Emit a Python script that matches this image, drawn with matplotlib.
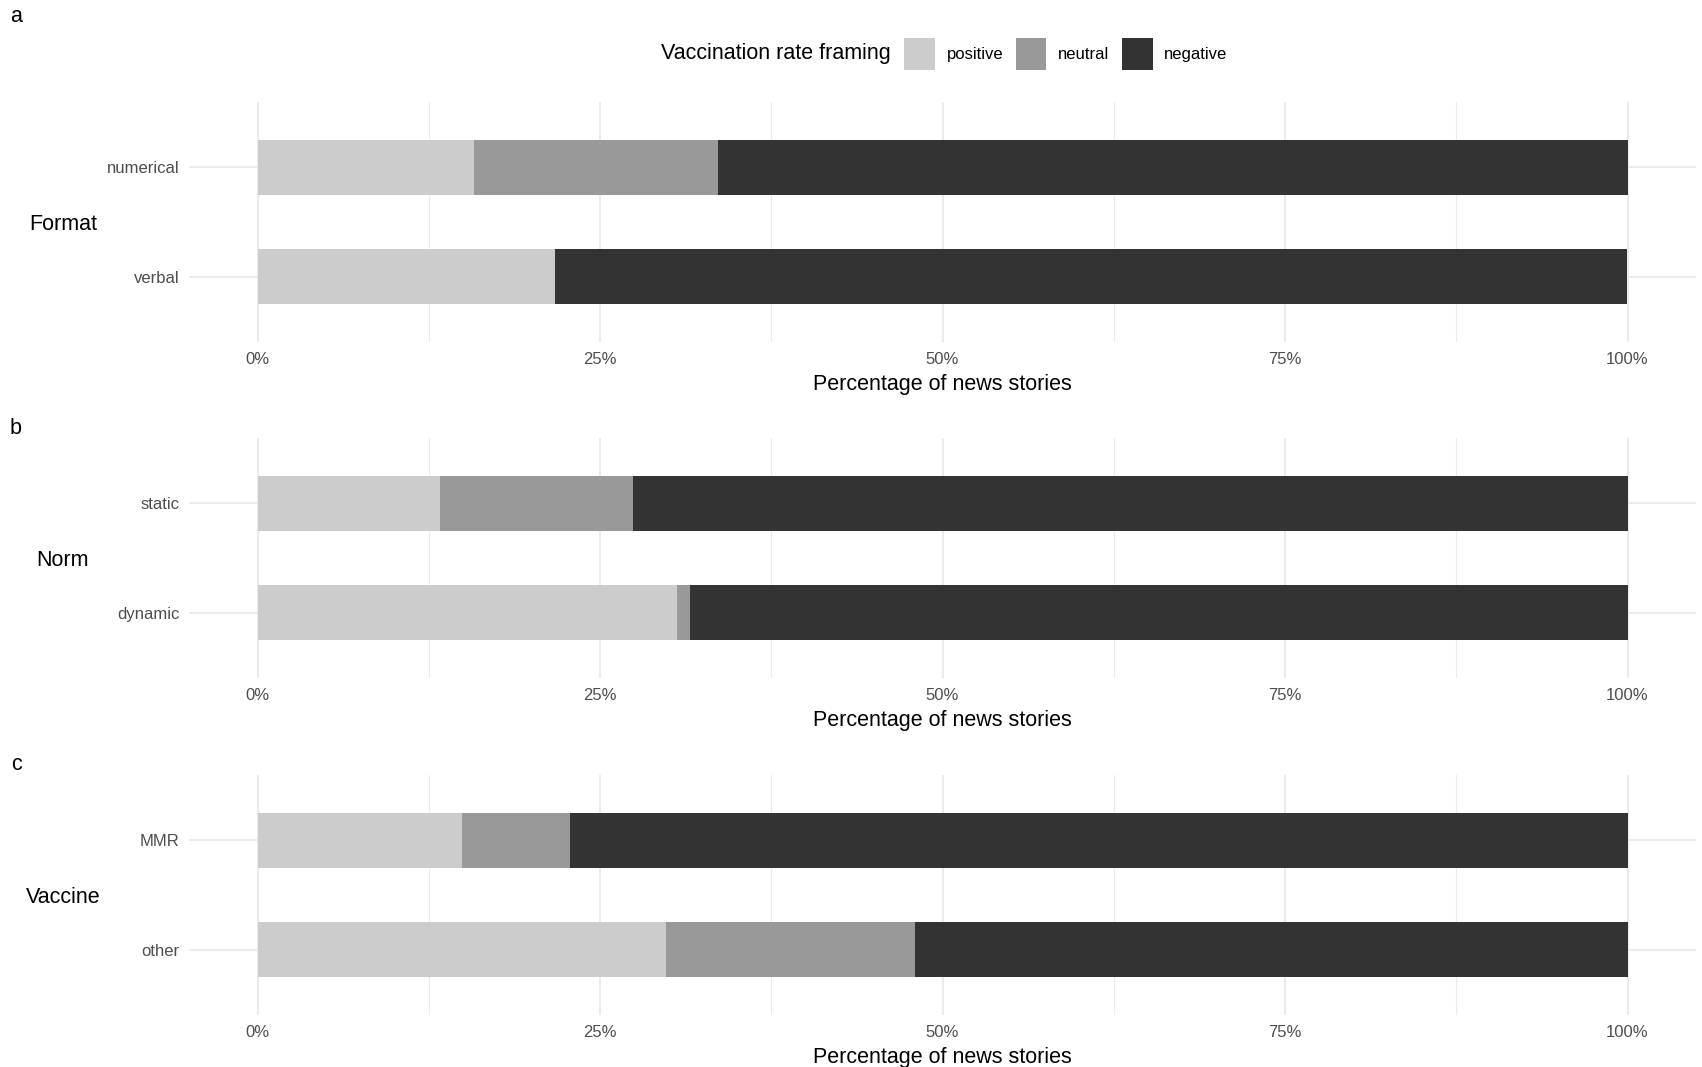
import numpy as np
import matplotlib.pyplot as plt
from matplotlib.patches import Patch
from matplotlib.ticker import FixedLocator, FuncFormatter

plt.rcParams['font.family'] = ['Liberation Sans', 'DejaVu Sans']

# framing categories and fill colours
framings = ['positive', 'neutral', 'negative']
colors = ['#CCCCCC', '#999999', '#333333']

# panel a: Format
format_cats = ['numerical', 'verbal']
format_pos = [15.8, 21.7]
format_neu = [17.8, 0.0]
format_neg = [66.4, 78.3]

# panel b: Norm
norm_cats = ['static', 'dynamic']
norm_pos = [13.3, 30.6]
norm_neu = [14.1, 1.0]
norm_neg = [72.6, 68.4]

# panel c: Vaccine
vacc_cats = ['MMR', 'other']
vacc_pos = [14.9, 29.8]
vacc_neu = [7.9, 18.2]
vacc_neg = [77.2, 52.0]

panels = [
    ('a', 'Format', format_cats, [format_pos, format_neu, format_neg]),
    ('b', 'Norm', norm_cats, [norm_pos, norm_neu, norm_neg]),
    ('c', 'Vaccine', vacc_cats, [vacc_pos, vacc_neu, vacc_neg]),
]

W, H = 1702, 1067
fig = plt.figure(figsize=(W / 100, H / 100), dpi=100)

left = 189 / W
width = 1507 / W
tops = [102, 438, 775]
ph = 240
letter_y = [16, 428, 765]

tick_col = '#4D4D4D'
grid_col = '#EBEBEB'

for k, (letter, ytitle, cats, vals) in enumerate(panels):
    ax = fig.add_axes([left, 1 - (tops[k] + ph) / H, width, ph / H])
    ypos = np.arange(len(cats))[::-1]
    start = np.zeros(len(cats))
    for j in range(3):
        v = np.array(vals[j]) / 100.0
        ax.barh(ypos, v, left=start, height=0.5, color=colors[j], linewidth=0)
        start = start + v
    ax.set_xlim(-0.05, 1.05)
    ax.set_ylim(-0.6, len(cats) - 0.4)
    ax.set_yticks(ypos)
    ax.set_yticklabels(cats)
    ax.xaxis.set_major_locator(FixedLocator([0, 0.25, 0.5, 0.75, 1.0]))
    ax.xaxis.set_minor_locator(FixedLocator([0.125, 0.375, 0.625, 0.875]))
    ax.xaxis.set_major_formatter(FuncFormatter(lambda x, p: f'{x*100:.0f}%'))
    ax.set_axisbelow(True)
    ax.grid(which='major', color=grid_col, linewidth=1.5)
    ax.grid(which='minor', axis='x', color=grid_col, linewidth=0.8)
    for s in ax.spines.values():
        s.set_visible(False)
    ax.tick_params(axis='both', which='both', length=0, labelcolor=tick_col, labelsize=12)
    ax.tick_params(axis='x', pad=7.5)
    ax.tick_params(axis='y', pad=7)
    ax.set_xlabel('Percentage of news stories', fontsize=15.5, labelpad=4.5)
    ax.set_ylabel(ytitle, fontsize=15.5, rotation=0, ha='center', va='center')
    ax.yaxis.set_label_coords((63 - 189) / 1507, 0.49)
    fig.text(16 / W, 1 - letter_y[k] / H, letter, fontsize=15.5, ha='center', va='center')

# legend on top
handles = [Patch(facecolor=c, edgecolor='none') for c in colors]
fig.text(891 / W, 1 - 54 / H, 'Vaccination rate framing', fontsize=15.5, ha='right', va='center')
fig.legend(handles, framings, loc='center left', bbox_to_anchor=(904 / W, 1 - 54 / H),
           ncol=3, frameon=False, fontsize=12, borderpad=0, borderaxespad=0,
           handlelength=1.85, handleheight=2.6, handletextpad=0.7, columnspacing=0.75)

plt.savefig('out.png', dpi=100)
